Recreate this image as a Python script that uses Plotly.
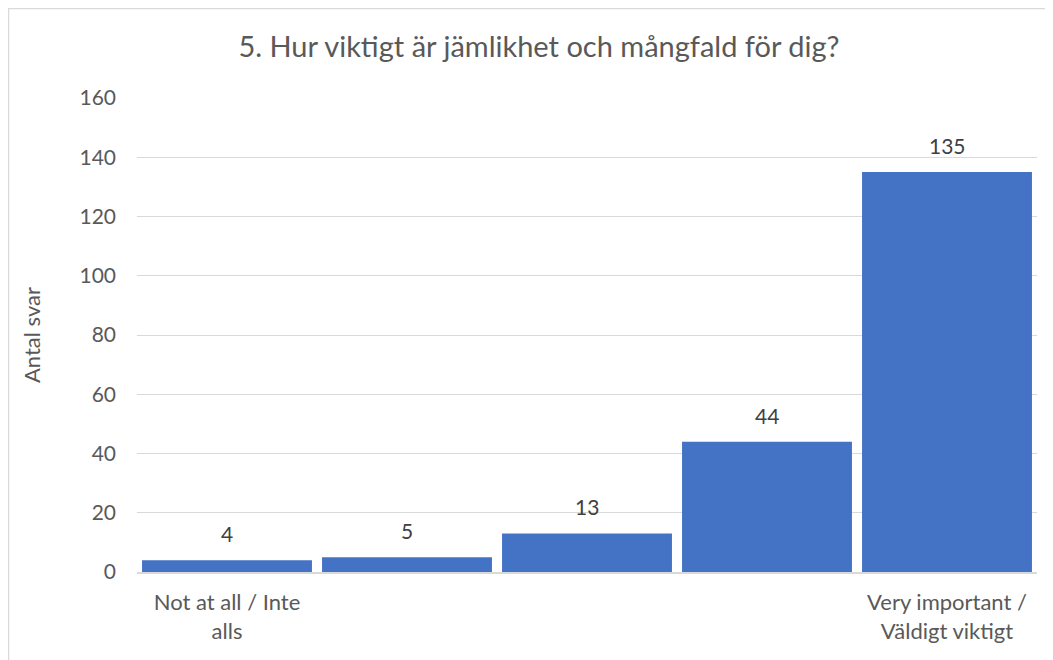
import plotly.graph_objects as go

categories = [1, 2, 3, 4, 5]
tick_labels = ["Not at all / Inte<br>alls", "", "", "", "Very important /<br>Väldigt viktigt"]
values = [4, 5, 13, 44, 135]

FONT = "Lato, Calibri, Carlito, sans-serif"
W, H = 1053, 660
OFF = 8  # page body margin
L, R, T = 137 - OFF, 24, 98 - OFF
ph = 474
B = H - T - ph
pw = W - L - R

fig = go.Figure(go.Bar(
    x=categories, y=values,
    marker=dict(color="#4472C4", line=dict(width=0)),
    hoverinfo="x+y",
))

for c, v in zip(categories, values):
    fig.add_annotation(x=c, y=v, text=str(v), showarrow=False,
                       yanchor="bottom", yshift=12,
                       font=dict(family=FONT, size=21, color="#404040"))

fig.update_layout(
    width=W, height=H,
    margin=dict(l=L, r=R, t=T, b=B),
    paper_bgcolor="white", plot_bgcolor="white",
    bargap=0.056,
    showlegend=False,
    title=dict(text="5. Hur viktigt är jämlikhet och mångfald för dig?",
               x=(539 - OFF) / W, xanchor="center", y=1 - (47 - OFF) / H, yanchor="middle",
               font=dict(family=FONT, size=29, color="#595959")),
    font=dict(family=FONT, color="#595959"),
    xaxis=dict(tickvals=categories, ticktext=tick_labels, range=[0.5, 5.5],
               showgrid=False, showline=True, linecolor="#d9d9d9", linewidth=1.5,
               ticks="", ticklabelstandoff=10,
               tickfont=dict(family=FONT, size=22, color="#595959")),
    yaxis=dict(range=[0, 160], dtick=20, showgrid=True, gridcolor="#d9d9d9",
               gridwidth=1.3, zeroline=False, showline=False, ticks="",
               ticklabelstandoff=20,
               tickfont=dict(family=FONT, size=21, color="#595959"),
               title=dict(text="Antal svar", standoff=32,
                          font=dict(family=FONT, size=22, color="#595959"))),
    shapes=[dict(type="rect", xref="paper", yref="paper",
                 x0=(0.5 - L) / pw, x1=(W + 10 - L) / pw,
                 y0=-(B + 10) / ph, y1=(H - 0.5 - B) / ph,
                 line=dict(color="#d9d9d9", width=1.5), fillcolor="rgba(0,0,0,0)",
                 layer="below")],
)

fig.write_html("out.html")
